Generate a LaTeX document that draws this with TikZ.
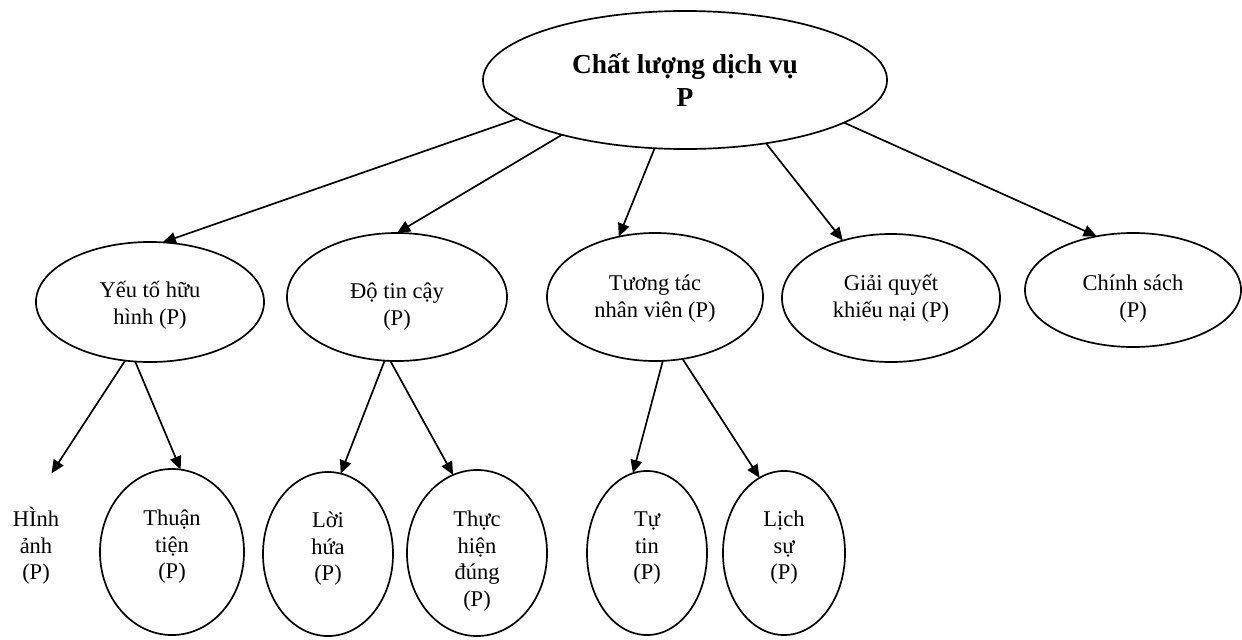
\documentclass[tikz,border=0pt]{standalone}
\usepackage{fontspec}
\setmainfont{Liberation Serif}
\usetikzlibrary{arrows.meta,shapes.geometric}
\tikzset{
  root/.style={ellipse, draw, line width=1.2pt, inner sep=0pt, outer sep=0pt,
               minimum width=10.1cm, minimum height=3.45cm, align=center,
               font=\fontsize{19.5}{24}\selectfont\bfseries},
  factor/.style={ellipse, draw, line width=1.2pt, inner sep=0pt, outer sep=0pt,
               minimum height=3.2cm, align=center, text depth=0pt,
               font=\fontsize{16}{19}\selectfont},
  item/.style={ellipse, draw, line width=1.2pt, inner sep=0pt, outer sep=0pt,
               minimum height=4.1cm, align=center, text height=40pt, text depth=2pt,
               font=\fontsize{16}{19}\selectfont},
  link/.style={-{Triangle[length=3.3mm,width=2.9mm]}, line width=1.2pt},
}

\begin{document}
\begin{tikzpicture}[x=0.025cm,y=-0.025cm]
  \useasboundingbox (0,0) rectangle (1242,639);
  \node[root] (cl) at (685,80) {Chất lượng dịch vụ\\P};
  \node[factor,minimum width=5.7cm,minimum height=3.0cm,text height=32pt] (yeuto) at (150,302) {Yếu tố hữu\\hình (P)};
  \node[factor,minimum width=5.5cm,text height=40pt] (dotin) at (397,297) {Độ tin cậy\\(P)};
  \node[factor,minimum width=5.4cm,text height=29pt] (tuongtac) at (655,297) {Tương tác\\nhân viên (P)};
  \node[factor,minimum width=5.45cm,text height=28pt] (giaiquyet) at (891,298) {Giải quyết\\khiếu nại (P)};
  \node[factor,minimum width=5.4cm,minimum height=2.85cm,text height=39pt] (chinhsach) at (1133,290) {Chính sách\\(P)};
  \node[item,draw=none,minimum width=3.25cm] (hinhanh) at (36,553) {HÌnh\\ảnh\\(P)};
  \node[item,minimum width=3.6cm,minimum height=4.15cm] (thuantien) at (172,552) {Thuận\\tiện\\(P)};
  \node[item,minimum width=3.25cm] (loihua) at (328,554) {Lời\\hứa\\(P)};
  \node[item,minimum width=3.5cm,minimum height=4.15cm,text height=78pt] (thuchien) at (477,553) {Thực\\hiện\\đúng\\(P)};
  \node[item,minimum width=3.0cm] (tutin) at (647,553) {Tự\\tin\\(P)};
  \node[item,minimum width=3.05cm] (lichsu) at (784,553) {Lịch\\sự\\(P)};
  \draw[link] (cl.193) -- (yeuto.78);
  \draw[link] (cl.204) -- (dotin.north);
  \draw[link] (cl.246) -- (tuongtac.121);
  \draw[link] (cl.322) -- (giaiquyet.130);
  \draw[link] (cl.345) -- (chinhsach.124);
  \draw[link] (yeuto.247) -- (hinhanh.79);
  \draw[link] (yeuto.256) -- (thuantien.84);
  \draw[link] (dotin.259) -- (loihua.81);
  \draw[link] (dotin.264) -- (thuchien.107);
  \draw[link] (tuongtac.277) -- (tutin.100);
  \draw[link] (tuongtac.294) -- (lichsu.108);
\end{tikzpicture}
\end{document}
